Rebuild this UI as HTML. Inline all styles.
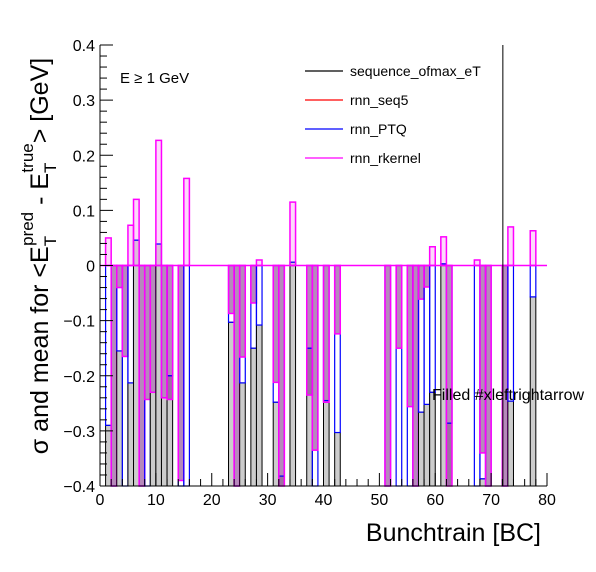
<!DOCTYPE html>
<html><head><meta charset="utf-8"><style>
html,body{margin:0;padding:0;background:#fff;}
svg{display:block;font-family:"Liberation Sans",sans-serif;}
</style></head><body>
<svg id="chart" width="596" height="572" viewBox="0 0 596 572" xmlns="http://www.w3.org/2000/svg">
<g id="bars"></g>
<g id="axes"></g>
</svg>
<script>
// data: bin index (BC), sequence_ofmax_eT mean, rnn_PTQ mean, rnn_rkernel mean
const bins   = [1,2,3,4,5,6,7,8,9,10,11,12,14,15,23,24,25,27,28,31,32,34,37,38,40,42,51,53,55,56,57,58,59,61,62,67,68,69,72,73,77];
const seqVals = [-0.29,-0.4,-0.155,-0.4,-0.213,0.046,-0.4,-0.4,-0.23,0.039,-0.24,-0.2,-0.4,-0.4,-0.103,-0.4,-0.213,-0.15,-0.108,-0.248,-0.382,0.006,-0.15,-0.4,-0.248,-0.303,-0.4,-0.4,-0.4,-0.4,-0.266,-0.252,-0.23,0.003,-0.286,-0.4,-0.387,-0.4,-0.4,-0.246,-0.057];
const ptqVals = [-0.29,-0.4,-0.155,-0.4,-0.213,0.046,-0.4,-0.4,-0.23,0.039,-0.24,-0.2,-0.4,-0.4,-0.103,-0.4,-0.213,-0.15,-0.108,-0.248,-0.382,0.006,-0.15,-0.4,-0.245,-0.303,-0.4,-0.4,-0.4,-0.4,-0.266,-0.252,-0.23,0.003,-0.286,-0.4,-0.387,-0.4,-0.4,-0.246,-0.057];
const rkVals  = [0.05,-0.4,-0.04,-0.165,0.073,0.12,-0.4,-0.243,-0.23,0.227,-0.24,-0.243,-0.39,0.158,-0.087,-0.4,-0.166,-0.068,0.01,-0.212,-0.4,0.115,-0.235,-0.335,-0.248,-0.124,-0.4,-0.15,-0.256,-0.4,-0.061,-0.039,0.034,0.052,-0.4,0.01,-0.34,-0.4,-0.4,0.07,0.063];
const yTicks = [-0.4,-0.3,-0.2,-0.1,0,0.1,0.2,0.3,0.4];
const yTickLabels = ["\u22120.4","\u22120.3","\u22120.2","\u22120.1","0","0.1","0.2","0.3","0.4"];
const xTicks = [0,10,20,30,40,50,60,70,80];
const legendNames = ["sequence_ofmax_eT","rnn_seq5","rnn_PTQ","rnn_rkernel"];
const legendColors = ["#000","#f00","#00f","#f0f"];

const NS="http://www.w3.org/2000/svg";
const X0=100,X1=547,Y0=486,Y1=45;
const xs=v=>X0+(v/80)*(X1-X0);
const ys=v=>Y0-((v+0.4)/0.8)*(Y0-Y1);
function mk(tag,attrs,parent){const e=document.createElementNS(NS,tag);for(const k in attrs)e.setAttribute(k,attrs[k]);parent.appendChild(e);return e;}
const gb=document.getElementById('bars'), ga=document.getElementById('axes'), svg=document.getElementById('chart');
const clamp=v=>Math.max(-0.4,Math.min(0.4,v));

bins.forEach((b,i)=>{
  const xa=xs(b), xb=xs(b+1), w=xb-xa;
  const k=clamp(seqVals[i]), p=clamp(ptqVals[i]), m=clamp(rkVals[i]);
  let r=mk('rect',{x:xa,y:ys(k),width:w,height:Y0-ys(k),fill:'#cccccc',stroke:'#000','stroke-width':1},gb);
  
  
  const top=Math.min(ys(0),ys(m)), h=Math.abs(ys(0)-ys(m));
  r=mk('rect',{x:xa,y:top,width:w,height:h,fill:m<0?'rgba(110,20,120,0.5)':'rgba(250,160,245,0.4)'},gb);
  
  
  r=mk('rect',{x:xa,y:Math.min(ys(0),ys(p)),width:w,height:Math.abs(ys(0)-ys(p)),fill:'none',stroke:'#00f','stroke-width':1.2},gb);
  
  
  r=mk('rect',{x:xa,y:top,width:w,height:h,fill:'none',stroke:'#f0f','stroke-width':1.5},gb);
  
  
});
let l=mk('line',{x1:X0,x2:X1,y1:ys(0),y2:ys(0),stroke:'#f0f','stroke-width':1.5},gb);


l=mk('line',{x1:xs(72.1),x2:xs(72.1),y1:Y1,y2:Y0,stroke:'#000','stroke-width':1},gb);



mk('line',{x1:X0,x2:X0,y1:Y1,y2:Y0,stroke:'#000'},ga);
mk('line',{x1:X0,x2:X1,y1:Y0,y2:Y0,stroke:'#000'},ga);
for(let v=-0.4;v<=0.4001;v+=0.02){const major=Math.abs(v*10-Math.round(v*10))<1e-6;mk('line',{x1:X0,x2:X0+(major?13:7),y1:ys(v),y2:ys(v),stroke:'#000'},ga);}
yTicks.forEach((v,i)=>{const t=mk('text',{x:95,y:ys(v)+6,'text-anchor':'end','font-size':16},ga);t.textContent=yTickLabels[i];

});
for(let v=0;v<=80;v+=2){const major=v%10===0;mk('line',{x1:xs(v),x2:xs(v),y1:Y0,y2:Y0-(major?13:7),stroke:'#000'},ga);}
xTicks.forEach(v=>{const t=mk('text',{x:xs(v),y:505,'text-anchor':'middle','font-size':16},ga);t.textContent=String(v);

});

const lg=mk('g',{},svg);


mk('rect',{x:300,y:58,width:200,height:112,fill:'#fff'},lg);
legendNames.forEach((n,i)=>{const y=71+29*i;
 mk('line',{x1:305,x2:343,y1:y,y2:y,stroke:legendColors[i],'stroke-width':1.2},lg);
 const t=mk('text',{x:350,y:y+5,'font-size':14},lg);t.textContent=n;
 
 });
</script>
<script>
(function(){
const NS="http://www.w3.org/2000/svg";const svg=document.getElementById('chart');
function txt(a,s,name){const t=document.createElementNS(NS,'text');for(const k in a)t.setAttribute(k,a[k]);t.innerHTML=s;svg.appendChild(t);

return t;}
txt({x:120,y:83,'font-size':15},'E \u2265 1 GeV','energy-cut-label');
txt({x:432,y:400,'font-size':16},'Filled #xleftrightarrow','filled-annotation');
txt({x:541,y:541,'font-size':25,'text-anchor':'end'},'Bunchtrain [BC]','x-axis-title');
txt({x:0,y:0,'font-size':25,'text-anchor':'middle',transform:'translate(48,256) rotate(-90)'},
 'σ and mean for &lt;E<tspan dy="8" font-size="17">T</tspan><tspan dx="-10" dy="-23" font-size="17">pred</tspan><tspan dy="15"> - E</tspan><tspan dy="8" font-size="17">T</tspan><tspan dx="-10" dy="-23" font-size="17">true</tspan><tspan dy="15">&gt; [GeV]</tspan>','y-axis-title');
})();
</script>
</body></html>
